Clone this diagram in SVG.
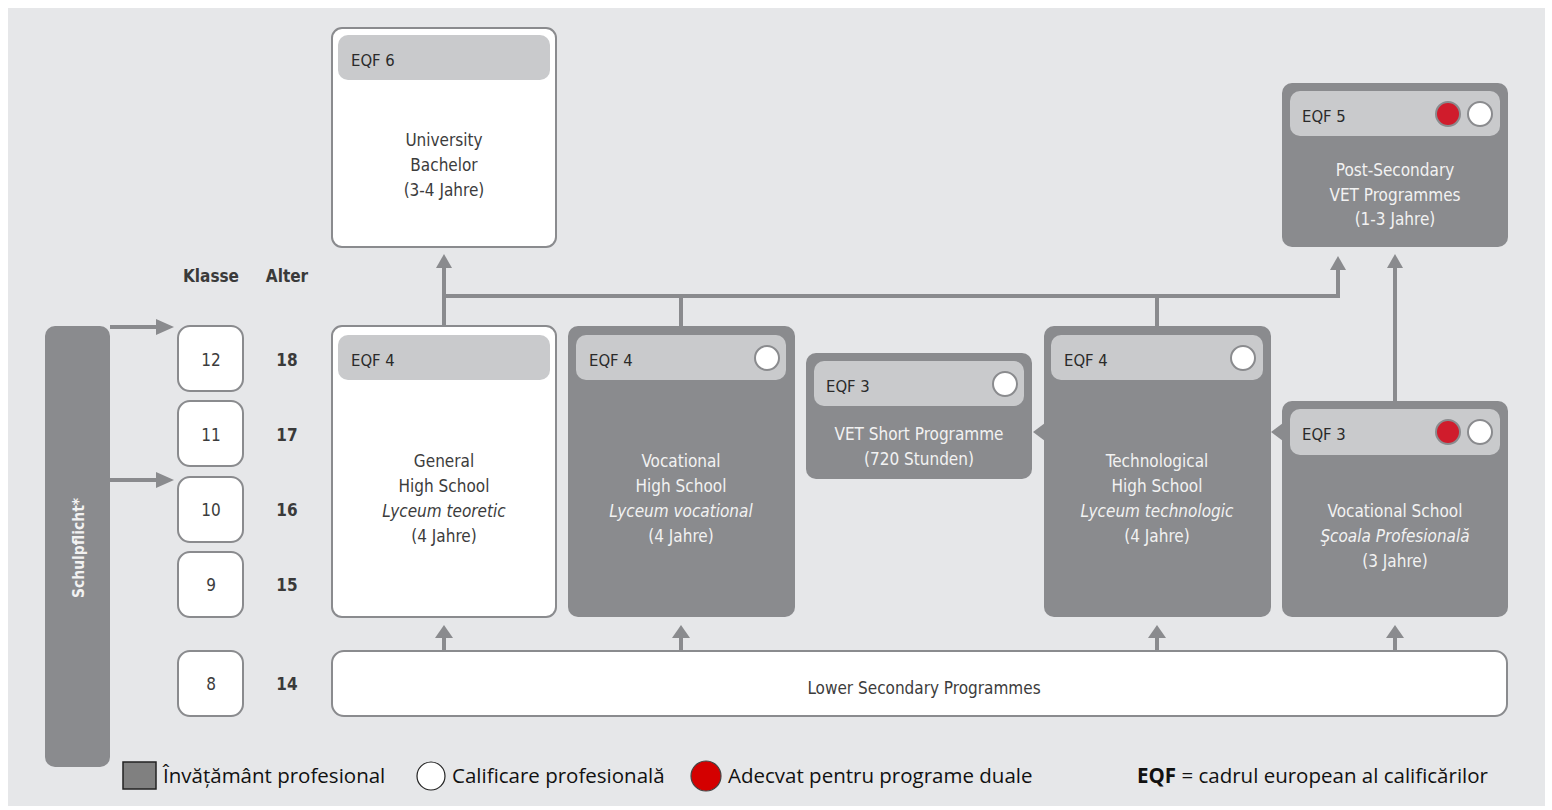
<svg xmlns="http://www.w3.org/2000/svg" width="1552" height="810" viewBox="0 0 1552 810">
<defs>
<style>
.bg{fill:#e6e7e9}
.wbox{fill:#fff;stroke:#8a8b8e;stroke-width:2}
.gbox{fill:#8a8b8e}
.hdr{fill:#c9cacc}
.t{font-family:"DejaVu Sans Condensed","DejaVu Sans",sans-serif;font-size:17px;fill:#3c3c3c;text-anchor:middle}
.tw{font-family:"DejaVu Sans Condensed","DejaVu Sans",sans-serif;font-size:17px;fill:#f2f2f2;text-anchor:middle}
.eqf{font-family:"DejaVu Sans Condensed","DejaVu Sans",sans-serif;font-size:16.5px;fill:#2a2a2a}
.b{font-family:"DejaVu Sans Condensed","DejaVu Sans",sans-serif;font-size:17px;font-weight:bold;fill:#3a3a3a;text-anchor:middle}
.i{font-style:italic}
.wc{fill:#fff;stroke:#8a8b8e;stroke-width:2}
.rc{fill:#d01c2c;stroke:#8a8b8e;stroke-width:2}
.ln{stroke:#8a8b8e;stroke-width:4;fill:none}
.ah{fill:#8a8b8e}
.lg{font-family:"Open Sans","Noto Sans",sans-serif;font-size:20.5px;fill:#111}
</style>
</defs>
<rect width="1552" height="810" fill="#fff"/>
<rect class="bg" x="8" y="8" width="1537" height="798"/>

<g id="connectors">
  <line class="ln" x1="110" y1="327" x2="160" y2="327"/>
  <polygon class="ah" points="174,327 156,319 156,335"/>
  <line class="ln" x1="110" y1="480" x2="160" y2="480"/>
  <polygon class="ah" points="174,480 156,472 156,488"/>
  <line class="ln" x1="444" y1="326" x2="444" y2="266"/>
  <polygon class="ah" points="444,254 436,268 452,268"/>
  <polyline class="ln" points="444,296 1338,296 1338,268"/>
  <polygon class="ah" points="1338,256 1330,270 1346,270"/>
  <line class="ln" x1="681" y1="326" x2="681" y2="296"/>
  <line class="ln" x1="1157" y1="326" x2="1157" y2="296"/>
  <line class="ln" x1="1395" y1="401" x2="1395" y2="266"/>
  <polygon class="ah" points="1395,254 1387,268 1403,268"/>
  <line class="ln" x1="444" y1="651" x2="444" y2="636"/>
  <polygon class="ah" points="444,625 435,638 453,638"/>
  <line class="ln" x1="681" y1="651" x2="681" y2="636"/>
  <polygon class="ah" points="681,625 672,638 690,638"/>
  <line class="ln" x1="1157" y1="651" x2="1157" y2="636"/>
  <polygon class="ah" points="1157,625 1148,638 1166,638"/>
  <line class="ln" x1="1395" y1="651" x2="1395" y2="636"/>
  <polygon class="ah" points="1395,625 1386,638 1404,638"/>
  <polygon class="ah" points="1033,432 1045,423 1045,441"/>
  <polygon class="ah" points="1271,432 1283,423 1283,441"/>
</g>

<g id="schulpflicht">
  <rect class="gbox" x="45" y="326" width="65" height="441" rx="10"/>
  <text transform="translate(84,548) rotate(-90)" style="font-family:'DejaVu Sans Condensed','DejaVu Sans',sans-serif;font-size:15.5px;font-weight:bold;fill:#f2f2f2;text-anchor:middle">Schulpflicht*</text>
</g>

<g id="headers">
  <text class="b" x="211" y="282">Klasse</text>
  <text class="b" x="287" y="282">Alter</text>
</g>

<g id="grade12"><rect class="wbox" x="178" y="326" width="65" height="65" rx="12"/><text class="t" x="211" y="366">12</text><text class="b" x="287" y="366">18</text></g>
<g id="grade11"><rect class="wbox" x="178" y="401" width="65" height="65" rx="12"/><text class="t" x="211" y="441">11</text><text class="b" x="287" y="441">17</text></g>
<g id="grade10"><rect class="wbox" x="178" y="477" width="65" height="65" rx="12"/><text class="t" x="211" y="516">10</text><text class="b" x="287" y="516">16</text></g>
<g id="grade9"><rect class="wbox" x="178" y="552" width="65" height="65" rx="12"/><text class="t" x="211" y="591">9</text><text class="b" x="287" y="591">15</text></g>
<g id="grade8"><rect class="wbox" x="178" y="651" width="65" height="65" rx="12"/><text class="t" x="211" y="690">8</text><text class="b" x="287" y="690">14</text></g>

<g id="university">
  <rect class="wbox" x="332" y="28" width="224" height="219" rx="10"/>
  <rect class="hdr" x="338" y="35" width="212" height="45" rx="10"/>
  <text class="eqf" x="351" y="66">EQF 6</text>
  <text class="t" x="444" y="146">University</text>
  <text class="t" x="444" y="171">Bachelor</text>
  <text class="t" x="444" y="196">(3-4 Jahre)</text>
</g>

<g id="postsecondary">
  <rect class="gbox" x="1282" y="83" width="226" height="164" rx="10"/>
  <rect class="hdr" x="1290" y="91" width="210" height="45" rx="10"/>
  <text class="eqf" x="1302" y="122">EQF 5</text>
  <circle class="rc" cx="1448" cy="114" r="12"/>
  <circle class="wc" cx="1480" cy="114" r="12"/>
  <text class="tw" x="1395" y="176">Post-Secondary</text>
  <text class="tw" x="1395" y="201">VET Programmes</text>
  <text class="tw" x="1395" y="225">(1-3 Jahre)</text>
</g>

<g id="general">
  <rect class="wbox" x="332" y="326" width="224" height="291" rx="10"/>
  <rect class="hdr" x="338" y="335" width="212" height="45" rx="10"/>
  <text class="eqf" x="351" y="366">EQF 4</text>
  <text class="t" x="444" y="467">General</text>
  <text class="t" x="444" y="492">High School</text>
  <text class="t i" x="444" y="517">Lyceum teoretic</text>
  <text class="t" x="444" y="542">(4 Jahre)</text>
</g>

<g id="vocationalhs">
  <rect class="gbox" x="568" y="326" width="227" height="291" rx="10"/>
  <rect class="hdr" x="576" y="335" width="210" height="45" rx="10"/>
  <text class="eqf" x="589" y="366">EQF 4</text>
  <circle class="wc" cx="767" cy="358" r="12"/>
  <text class="tw" x="681" y="467">Vocational</text>
  <text class="tw" x="681" y="492">High School</text>
  <text class="tw i" x="681" y="517">Lyceum vocational</text>
  <text class="tw" x="681" y="542">(4 Jahre)</text>
</g>

<g id="vetshort">
  <rect class="gbox" x="806" y="353" width="226" height="126" rx="10"/>
  <rect class="hdr" x="814" y="361" width="210" height="45" rx="10"/>
  <text class="eqf" x="826" y="392">EQF 3</text>
  <circle class="wc" cx="1005" cy="384" r="12"/>
  <text class="tw" x="919" y="440">VET Short Programme</text>
  <text class="tw" x="919" y="465">(720 Stunden)</text>
</g>

<g id="technological">
  <rect class="gbox" x="1044" y="326" width="227" height="291" rx="10"/>
  <rect class="hdr" x="1051" y="335" width="212" height="45" rx="10"/>
  <text class="eqf" x="1064" y="366">EQF 4</text>
  <circle class="wc" cx="1243" cy="358" r="12"/>
  <text class="tw" x="1157" y="467">Technological</text>
  <text class="tw" x="1157" y="492">High School</text>
  <text class="tw i" x="1157" y="517">Lyceum technologic</text>
  <text class="tw" x="1157" y="542">(4 Jahre)</text>
</g>

<g id="vocationalschool">
  <rect class="gbox" x="1282" y="401" width="226" height="216" rx="10"/>
  <rect class="hdr" x="1290" y="409" width="210" height="46" rx="10"/>
  <text class="eqf" x="1302" y="440">EQF 3</text>
  <circle class="rc" cx="1448" cy="432" r="12"/>
  <circle class="wc" cx="1480" cy="432" r="12"/>
  <text class="tw" x="1395" y="517">Vocational School</text>
  <text class="tw i" x="1395" y="542">Şcoala Profesională</text>
  <text class="tw" x="1395" y="567">(3 Jahre)</text>
</g>

<g id="lowersecondary">
  <rect class="wbox" x="332" y="651" width="1175" height="65" rx="12"/>
  <text class="t" x="924" y="694">Lower Secondary Programmes</text>
</g>

<g id="legend">
  <rect x="123" y="762" width="33" height="27" fill="#808080" stroke="#222" stroke-width="1.5"/>
  <text class="lg" x="163" y="783">Învățământ profesional</text>
  <circle cx="431" cy="776" r="14" fill="#fff" stroke="#222" stroke-width="1.2"/>
  <text class="lg" x="452" y="783">Calificare profesională</text>
  <circle cx="706" cy="776" r="15" fill="#d40000" stroke="#444" stroke-width="1.2"/>
  <text class="lg" x="728" y="783">Adecvat pentru programe duale</text>
  <text class="lg" x="1137" y="783"><tspan font-weight="bold">EQF</tspan> = cadrul european al calificărilor</text>
</g>
</svg>
